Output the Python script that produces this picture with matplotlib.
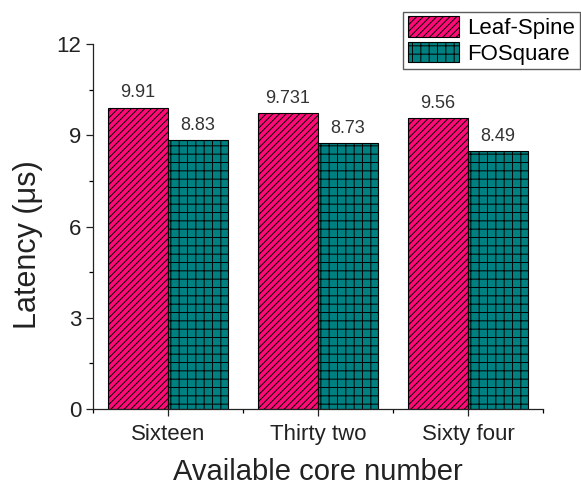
import numpy as np
import matplotlib
matplotlib.use("Agg")
import matplotlib.pyplot as plt
from matplotlib.ticker import MultipleLocator, FixedLocator

categories = ["Sixteen", "Thirty two", "Sixty four"]
leaf_spine = [9.91, 9.731, 9.56]
fosquare = [8.83, 8.73, 8.49]
leaf_labels = ["9.91", "9.731", "9.56"]
fo_labels = ["8.83", "8.73", "8.49"]


def main():
    plt.rcParams['font.family'] = ['Liberation Sans', 'DejaVu Sans']
    plt.rcParams['hatch.linewidth'] = 0.7
    plt.rcParams['hatch.color'] = 'black'

    fig = plt.figure(figsize=(5.81, 4.86), dpi=100)
    ax = fig.add_axes([0.160, 0.1584, 0.7746, 0.7511])

    x = np.arange(1, len(categories) + 1)
    w = 0.4
    b1 = ax.bar(x - w / 2, leaf_spine, w, color='#FF0A78', edgecolor='black',
                linewidth=0.8, hatch='/////', label='Leaf-Spine')
    b2 = ax.bar(x + w / 2, fosquare, w, color='#008080', edgecolor='black',
                linewidth=0.8, hatch='++', label='FOSquare')

    # value labels above bars
    for xi, v, s in zip(x - w / 2, leaf_spine, leaf_labels):
        ax.text(xi, v + 0.2, s, ha='center', va='bottom', fontsize=13, color='#333333')
    for xi, v, s in zip(x + w / 2, fosquare, fo_labels):
        ax.text(xi, v + 0.2, s, ha='center', va='bottom', fontsize=13, color='#333333')

    ax.set_xlim(0.5, 3.5)
    ax.set_ylim(0, 12)
    ax.set_xticks(x)
    ax.set_xticklabels(categories)
    ax.xaxis.set_minor_locator(FixedLocator([0.5, 1.5, 2.5, 3.5]))
    ax.yaxis.set_major_locator(MultipleLocator(3))
    ax.yaxis.set_minor_locator(MultipleLocator(1.5))

    ax.spines['top'].set_visible(False)
    ax.spines['right'].set_visible(False)
    for sp in ['left', 'bottom']:
        ax.spines[sp].set_linewidth(0.9)
        ax.spines[sp].set_color('#222222')

    ax.tick_params(axis='both', which='major', direction='out', length=5,
                   width=0.9, labelsize=16, colors='#222222')
    ax.tick_params(axis='both', which='minor', direction='out', length=3, width=0.9)
    ax.tick_params(axis='x', which='major', pad=6)

    ax.set_xlabel('Available core number', fontsize=21, color='#222222', labelpad=9)
    ax.set_ylabel('Latency (μs)', fontsize=22, color='#222222')
    ax.yaxis.set_label_coords(-0.112, 0.45)

    leg = fig.legend(handles=[b1, b2], loc='upper right',
                     bbox_to_anchor=(0.998, 0.976), fontsize=16,
                     frameon=True, fancybox=False, edgecolor='#333333',
                     handlelength=2.3, handleheight=1.05, handletextpad=0.4,
                     labelspacing=0.12, borderpad=0.2, borderaxespad=0.0)
    leg.get_frame().set_linewidth(1.0)

    fig.savefig('out.png', dpi=100)


if __name__ == "__main__":
    main()
